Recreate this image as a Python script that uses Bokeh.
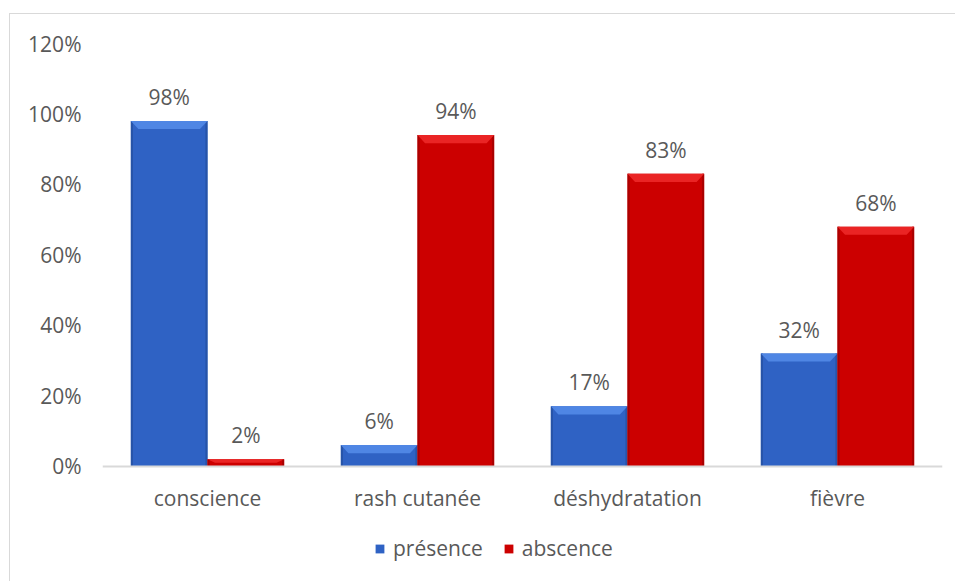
from bokeh.plotting import figure
from bokeh.models import (ColumnDataSource, Range1d, FixedTicker, PrintfTickFormatter,
                          Legend, LegendItem)
from bokeh.core.properties import value
from bokeh.embed import file_html
from bokeh.resources import INLINE

# ---- data -------------------------------------------------------------
categories = ["conscience", "rash cutanée", "déshydratation", "fièvre"]
presence = [98, 6, 17, 32]
absence = [2, 94, 83, 68]
series_names = ["présence", "abscence"]
y_ticks = [0, 20, 40, 60, 80, 100, 120]

FONT = "Open Sans"
FS = "21px"
TXT = "#595959"
BAR_W = 0.365          # width of one bar, in category units
BEV_X = 0.036          # bevel size (category units)
BEV_Y = 2.3            # bevel size (percent units)
EDGE_X = 0.010
Y_MIN = -33            # room under the baseline for category labels and legend

palettes = {
    "blue": dict(body="#2f62c4", top="#4f86e4", edge="#2754a8"),
    "red": dict(body="#cc0000", top="#ea2424", edge="#aa0000"),
}

p = figure(width=946, height=568, output_backend="svg", toolbar_location=None,
           x_range=Range1d(0, len(categories)), y_range=Range1d(Y_MIN, 120),
           min_border_left=92, min_border_right=14, min_border_top=29,
           min_border_bottom=0,
           styles={"margin-left": "9px", "margin-top": "13px",
                   "border-left": "1px solid #d9d9d9",
                   "border-top": "1px solid #d9d9d9"})
p.outline_line_color = None
p.xgrid.visible = False
p.ygrid.visible = False

centers = [i + 0.5 for i in range(len(categories))]


def beveled_bars(vals, offset, pal):
    lefts = [c + offset for c in centers]
    rights = [l + BAR_W for l in lefts]
    src = ColumnDataSource(dict(left=lefts, right=rights, top=vals,
                                bottom=[0] * len(vals), label=[f"{v}%" for v in vals],
                                xc=[(l + r) / 2 for l, r in zip(lefts, rights)]))
    body = p.quad(left="left", right="right", top="top", bottom="bottom", source=src,
                  fill_color=pal["body"], line_color=None)
    # darker side edges
    p.quad(left=lefts, right=[l + EDGE_X for l in lefts], top=vals, bottom=[0] * len(vals),
           fill_color=pal["edge"], line_color=None)
    p.quad(left=[r - EDGE_X for r in rights], right=rights, top=vals, bottom=[0] * len(vals),
           fill_color=pal["edge"], line_color=None)
    # lighter top bevel
    xs, ys = [], []
    for l, r, v in zip(lefts, rights, vals):
        dy = min(BEV_Y, v / 2)
        xs.append([l, r, r - BEV_X, l + BEV_X])
        ys.append([v, v, v - dy, v - dy])
    p.patches(xs, ys, fill_color=pal["top"], line_color=None)
    # value labels
    p.text(x="xc", y="top", text="label", source=src, text_align="center",
           text_baseline="alphabetic", y_offset=-24, text_font=value(FONT),
           text_font_size=FS, text_color=TXT)
    return body


r_pres = beveled_bars(presence, -BAR_W, palettes["blue"])
r_abs = beveled_bars(absence, 0.0, palettes["red"])

# ---- axes -------------------------------------------------------------
p.xaxis.fixed_location = 0
p.xaxis.ticker = FixedTicker(ticks=centers)
p.xaxis.major_label_overrides = {c: name for c, name in zip(centers, categories)}
p.xaxis.axis_line_color = "#d9d9d9"
p.xaxis.axis_line_width = 2
p.xaxis.major_tick_line_color = None
p.xaxis.minor_tick_line_color = None
p.xaxis.major_label_standoff = 12
p.xaxis.major_label_text_font = FONT
p.xaxis.major_label_text_font_size = FS
p.xaxis.major_label_text_color = TXT

p.yaxis.ticker = FixedTicker(ticks=y_ticks)
p.yaxis.formatter = PrintfTickFormatter(format="%d%%")
p.yaxis.axis_line_color = None
p.yaxis.major_tick_line_color = None
p.yaxis.minor_tick_line_color = None
p.yaxis.major_label_standoff = 15
p.yaxis.major_label_text_font = FONT
p.yaxis.major_label_text_font_size = FS
p.yaxis.major_label_text_color = TXT

# ---- legend -----------------------------------------------------------
legend = Legend(items=[LegendItem(label=series_names[0], renderers=[r_pres]),
                       LegendItem(label=series_names[1], renderers=[r_abs])],
                orientation="horizontal", location=(272, 20),
                glyph_width=11, glyph_height=11, label_standoff=8, spacing=20,
                padding=0, margin=0, border_line_color=None,
                background_fill_alpha=0,
                label_text_font=FONT, label_text_font_size=FS,
                label_text_color=TXT)
p.add_layout(legend, "center")

open("out.html", "w").write(file_html(p, INLINE))
